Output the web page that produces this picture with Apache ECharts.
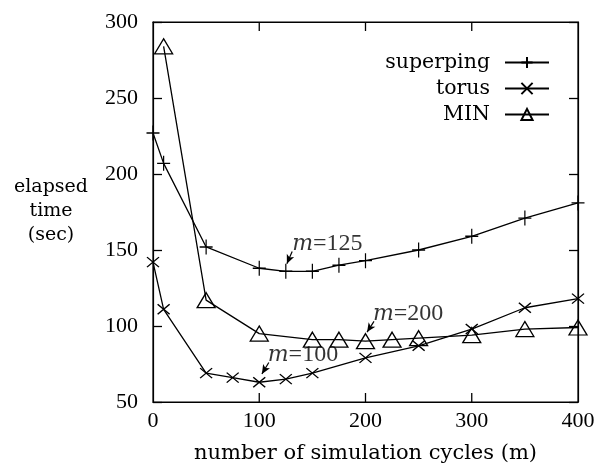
<!DOCTYPE html>
<html>
<head>
<meta charset="utf-8">
<script src="https://cdn.jsdelivr.net/npm/echarts@6/dist/echarts.min.js"></script>
<style>
html,body{margin:0;padding:0;background:#fff;}
#chart{width:596px;height:464px;}
</style>
</head>
<body>
<div id="chart"></div>
<script>
// ---- data ----
const superpingX = [0, 10, 50, 100, 125, 150, 175, 200, 250, 300, 350, 400];
const superpingY = [227, 207, 152, 138, 136, 136, 140, 143, 150, 159, 171, 181];
const torusX = [0, 10, 50, 75, 100, 125, 150, 200, 250, 300, 350, 400];
const torusY = [142, 111, 69, 66, 63, 65, 69, 79, 87, 98, 112, 118];
const minX = [10, 50, 100, 150, 175, 200, 225, 250, 300, 350, 400];
const minY = [284, 117, 95, 91, 91, 90, 91, 92, 94, 98, 99];
const xTicks = [0, 100, 200, 300, 400];
const yTicks = [50, 100, 150, 200, 250, 300];
// annotations: label text value, text anchor (data coords), arrow from/to (data coords)
const annotLabels = ['125', '200', '100'];
const annotText = [[131, 154], [207, 108], [108, 81]];
const annotArrowFrom = [[131, 149], [208, 103], [109, 76]];
const annotArrowTo = [[126, 141], [201.5, 96], [102.5, 68.5]];

const X_MIN = 0, X_MAX = 400, Y_MIN = 50, Y_MAX = 300;
const TICK_LEN = 9;

const pair = (xs, ys) => xs.map((x, i) => [x, ys[i]]);

const serif = 'DejaVu Serif';
const numFont = 'Liberation Serif';

const plusPath = 'path://M0,-1 L0,1 M-1,0 L1,0';
const crossPath = 'path://M-1,-1 L1,1 M-1,1 L1,-1';
const triPath = 'path://M0,-0.85 L1,0.85 L-1,0.85 Z';

const lineStyle = {color: '#000', width: 1.3};
function mkSeries(name, data, symbol, size) {
  return {
    name, type: 'line', data, symbol, symbolSize: size,
    showAllSymbol: true,
    lineStyle,
    itemStyle: {color: 'rgba(0,0,0,0)', borderColor: '#000', borderWidth: 1.3},
    emphasis: {disabled: true},
    animation: false,
    z: 3
  };
}

const series = [
  mkSeries('superping', pair(superpingX, superpingY), plusPath, [13, 15]),
  mkSeries('torus', pair(torusX, torusY), crossPath, [12, 10]),
  mkSeries('MIN', pair(minX, minY), triPath, [18, 15])
];

// annotation series (text + arrows)
series.push({
  type: 'scatter',
  data: annotText.map((c, i) => ({value: c, name: annotLabels[i]})),
  symbolSize: 0,
  silent: true,
  animation: false,
  label: {
    show: true, position: 'right', distance: 0,
    formatter: p => '{i|m}{n|=' + p.name + '}',
    rich: {
      i: {fontFamily: serif, fontStyle: 'italic', fontSize: 22, color: '#000'},
      n: {fontFamily: numFont, fontSize: 24, color: '#000'}
    }
  },
  markLine: {
    silent: true, animation: false,
    symbol: ['none', 'arrow'], symbolSize: [6, 9],
    label: {show: false},
    lineStyle: {color: '#000', width: 1.2, type: 'solid'},
    data: annotArrowFrom.map((f, i) => [{coord: f}, {coord: annotArrowTo[i]}])
  }
});

// inward x ticks (bottom and top), placed through the axis scales
series.push({
  type: 'custom',
  silent: true,
  animation: false,
  clip: false,
  z: 10,
  data: xTicks.filter(v => v > X_MIN && v < X_MAX).map(v => [v, Y_MIN]),
  renderItem: function (params, api) {
    const v = api.value(0);
    const b = api.coord([v, Y_MIN]);
    const t = api.coord([v, Y_MAX]);
    const style = {stroke: '#000', lineWidth: 1.3, fill: null};
    return {
      type: 'group',
      children: [
        {type: 'line', shape: {x1: b[0], y1: b[1], x2: b[0], y2: b[1] - TICK_LEN}, style: style},
        {type: 'line', shape: {x1: t[0], y1: t[1], x2: t[0], y2: t[1] + TICK_LEN}, style: style}
      ]
    };
  }
});

function axis(extra, tick) {
  return Object.assign({
    type: 'value',
    axisLine: {show: true, onZero: false, lineStyle: {color: '#000', width: 1.2}},
    axisTick: tick,
    splitLine: {show: false}
  }, extra);
}
const yTick = {show: true, inside: true, length: TICK_LEN, lineStyle: {color: '#000', width: 1.3}};

const legendBase = (name, top) => ({
  data: [name], orient: 'vertical', right: 41, top,
  align: 'right', itemWidth: 44, itemHeight: 14,
  itemGap: 0, selectedMode: false,
  textStyle: {fontFamily: serif, fontSize: 20.5, color: '#000', padding: [0, 10, 0, 0]}
});

const option = {
  backgroundColor: '#fff',
  animation: false,
  title: {
    text: 'elapsed\ntime\n(sec)', left: 46, top: 170, textAlign: 'center',
    textStyle: {fontFamily: serif, fontSize: 19, fontWeight: 'normal', color: '#000', lineHeight: 24, align: 'center'}
  },
  legend: [legendBase('superping', 47), legendBase('torus', 73), legendBase('MIN', 99)],
  grid: {left: 153, right: 18, top: 22, bottom: 62, outerBoundsMode: 'none', containLabel: false,
    show: true, borderColor: '#000', borderWidth: 1.2, backgroundColor: 'transparent'},
  xAxis: [
    axis({
      min: X_MIN, max: X_MAX, interval: 100, position: 'bottom',
      axisLabel: {fontFamily: numFont, fontSize: 22, color: '#000', margin: 8,
        formatter: v => xTicks.includes(v) ? String(v) : ''},
      name: 'number of simulation cycles (m)', nameLocation: 'middle', nameGap: 41,
      nameTextStyle: {fontFamily: serif, fontSize: 21, color: '#000'}
    }, {show: false}),
    axis({
      min: X_MIN, max: X_MAX, interval: 100, position: 'top',
      axisLabel: {show: false}
    }, {show: false})
  ],
  yAxis: [
    axis({
      min: Y_MIN, max: Y_MAX, interval: 50, position: 'left',
      axisLabel: {fontFamily: numFont, fontSize: 22, color: '#000', margin: 15,
        formatter: v => yTicks.includes(v) ? String(v) : ''}
    }, yTick),
    axis({
      min: Y_MIN, max: Y_MAX, interval: 50, position: 'right',
      axisLabel: {show: false}
    }, yTick)
  ],
  series
};

const chart = echarts.init(document.getElementById('chart'), null, {renderer: 'canvas'});
chart.setOption(option);
</script>
</body>
</html>
